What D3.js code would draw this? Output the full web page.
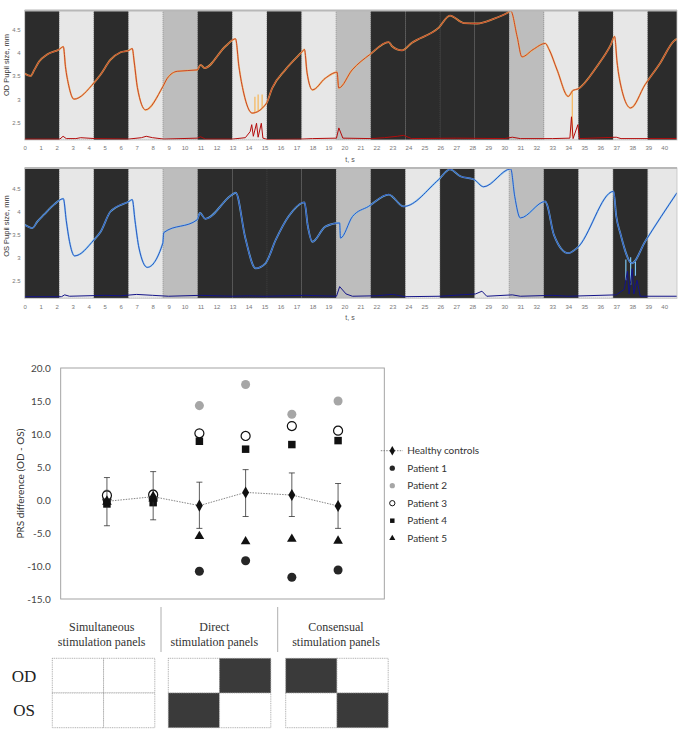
<!DOCTYPE html>
<html>
<head>
<meta charset="utf-8">
<script src="https://cdn.jsdelivr.net/npm/d3@7"></script>
<style>
  body { margin: 0; background: #fff; }
  svg { display: block; }
</style>
</head>
<body>
<svg id="chart" width="682" height="732"></svg>
<script>
// ---- pupil traces (top two panels) ----
var BAND_DUR = 2.165
var bandsOD = ["D","L","D","L","G","D","L","D","L","G","D","D","D","D","G","L","D","L","D"]
var bandsOS = ["D","L","D","L","G","D","D","D","D","G","D","L","D","L","G","D","L","D","L"]
var timeTicks = d3.range(0, 41)
var pupilTicks = [2.5, 3, 3.5, 4, 4.5]

var odTrace = [[0,3.55],[0.37,3.5],[0.6,3.63],[0.9,3.81],[1.4,3.96],[2.15,4.07],[2.42,4.13],[2.55,3.7],[2.75,3.3],
  [3.08,3.0],[4.33,3.35],[4.75,3.53],[5.37,3.85],[6.0,4.01],[6.52,4.05],[6.73,4.09],[6.85,3.8],[7.05,3.25],
  [7.56,2.77],[8.64,3.27],[8.92,3.45],[9.54,3.6],[10.79,3.63],[11.0,3.74],[11.25,3.67],[12.56,4.14],[13.19,4.3],
  [13.4,3.7],[13.7,3.13],[14.23,2.7],[15.1,2.9],[15.48,3.24],[16.3,3.63],[17.3,4.0],[17.5,4.07],[17.66,3.57],
  [18.0,3.2],[18.8,3.45],[19.54,3.58],[19.64,3.24],[20.48,3.63],[21.58,3.96],[22.77,4.23],[22.98,4.14],[23.6,4.05],
  [24.2,4.21],[25.9,4.54],[26.6,4.8],[27.46,4.64],[28.3,4.63],[29.33,4.73],[30.2,4.86],[30.4,4.9],[30.8,4.35],
  [31.1,3.91],[31.8,4.07],[32.56,4.2],[32.8,4.07],[33.3,3.63],[34.0,3.06],[34.3,3.19],[34.6,3.22],[35.8,3.71],
  [36.67,4.18],[36.9,4.35],[37.05,3.8],[37.25,3.35],[37.9,2.81],[38.8,3.31],[39.75,3.78],[40.6,4.25],[40.8,4.3]]
var odBase = [[0,2.14],[2.2,2.14],[2.4,2.2],[2.6,2.15],[3.2,2.15],[3.5,2.17],[4.4,2.15],[6.5,2.14],[7.3,2.17],
  [7.6,2.2],[8.0,2.17],[8.7,2.14],[10.8,2.16],[11.0,2.19],[11.3,2.14],[13.0,2.14],[13.8,2.17],[14.1,2.3],[14.2,2.45],
  [14.3,2.2],[14.5,2.48],[14.6,2.18],[14.8,2.48],[14.9,2.16],[15.2,2.13],[17.3,2.14],[18.0,2.15],[19.5,2.16],
  [19.65,2.38],[19.9,2.16],[21.7,2.15],[22.5,2.17],[23.3,2.2],[23.7,2.22],[24.2,2.15],[27,2.16],[30,2.15],
  [30.5,2.18],[31,2.15],[33,2.15],[34.1,2.16],[34.2,2.62],[34.3,2.15],[34.6,2.45],[34.7,2.15],[37,2.18],
  [37.3,2.15],[40.8,2.15]]
var odSpikes = [[14.4,2.72,3.05],[14.6,2.75,3.1],[14.85,2.8,3.1],[34.25,3.18,2.2]]

var osTrace = [[0,3.71],[0.48,3.64],[0.79,3.78],[1.2,3.93],[1.83,4.15],[2.42,4.28],[2.6,3.8],[2.8,3.35],[3.12,3.03],
  [4.33,3.38],[4.75,3.56],[5.37,4.0],[6.52,4.22],[6.73,4.26],[6.9,3.8],[7.15,3.2],[7.67,2.78],[8.64,3.31],[8.7,3.54],
  [10.79,3.82],[10.96,3.97],[11.3,3.84],[12.9,4.35],[13.2,4.41],[13.8,3.42],[14.44,2.76],[15.06,2.87],[15.7,3.38],
  [16.5,3.89],[17.5,4.2],[17.7,3.7],[18.0,3.34],[18.8,3.67],[19.7,3.75],[19.75,3.42],[20.5,3.89],[21.5,4.11],
  [22.77,4.37],[23.7,4.11],[25.9,4.7],[26.6,4.92],[27.25,4.77],[28.1,4.7],[28.7,4.54],[30.4,4.93],[30.65,4.33],
  [31.0,3.86],[32.56,4.22],[32.67,4.15],[33.1,3.49],[34.0,3.09],[34.54,3.2],[36.83,4.44],[37.0,3.9],[37.25,3.53],
  [37.98,2.87],[38.8,3.34],[40.8,4.41]]
var osBase = [[0,2.14],[2.3,2.14],[2.5,2.18],[2.8,2.15],[5,2.17],[6,2.16],[7,2.19],[8,2.17],[9,2.15],[11,2.17],
  [13,2.15],[14,2.16],[15,2.15],[17.5,2.17],[19.5,2.15],[19.7,2.36],[20.1,2.2],[20.5,2.15],[22,2.16],[23,2.19],
  [23.8,2.14],[26,2.15],[28.2,2.2],[28.6,2.26],[28.9,2.15],[30.5,2.18],[31,2.15],[33,2.17],[34,2.15],[37,2.18],
  [37.5,2.3],[37.7,2.7],[37.8,2.2],[38.0,2.75],[38.1,2.2],[38.3,2.5],[38.5,2.15],[40.8,2.15]]
var osSpikes = [[37.6,2.95,2.5],[37.9,3.0,2.4],[38.2,2.9,2.6]]

// ---- PRS difference chart ----
var conditions = ["sim1", "sim2", "dir1", "dir2", "con1", "con2"]
var prsTicks = [-15, -10, -5, 0, 5, 10, 15, 20]
var healthyMean = [-0.2, 0.5, -0.85, 1.15, 0.75, -0.9]
var healthyUpper = [3.4, 4.3, 2.7, 4.6, 4.1, 2.5]
var healthyLower = [-3.9, -3.0, -4.3, -2.5, -2.5, -4.3]
var patient1 = [0.1, 0.2, -10.8, -9.2, -11.7, -10.6]
var patient2 = [0.9, 0.9, 14.3, 17.5, 13.0, 15.0]
var patient3 = [0.7, 0.8, 10.1, 9.7, 11.2, 10.5]
var patient4 = [-0.6, -0.4, 8.9, 7.7, 8.4, 9.0]
var patient5 = [-0.3, 0.2, -5.5, -6.3, -5.9, -6.2]
var legendLabels = ["Healthy controls", "Patient 1", "Patient 2", "Patient 3", "Patient 4", "Patient 5"]

// ---- stimulation panel table ----
var panelTitles = [["Simultaneous", "stimulation panels"], ["Direct", "stimulation panels"], ["Consensual", "stimulation panels"]]
var eyeLabels = ["OD", "OS"]
var odDark = [[0, 0], [0, 1], [1, 0]]
var osDark = [[0, 0], [1, 0], [0, 1]]

var svg = d3.select("#chart")
var BAND_COLOR = {D: "#2c2c2c", L: "#e7e7e7", G: "#bdbdbd"}

function drawPupil(cfg) {
  var x = d3.scaleLinear().domain([0, 40.8]).range([24.7, 677])
  var y = d3.scaleLinear().domain(cfg.yDomain).range([cfg.bottom, cfg.top])
  var g = svg.append("g")
  var clipId = "clip" + cfg.id
  svg.append("clipPath").attr("id", clipId).append("rect")
    .attr("x", x(0)).attr("y", cfg.top).attr("width", x(40.8) - x(0)).attr("height", cfg.bottom - cfg.top)
  var plot = g.append("g").attr("clip-path", "url(#" + clipId + ")")

  plot.selectAll("rect.band").data(cfg.bands).join("rect")
    .attr("class", "band")
    .attr("x", (d, i) => x(i * BAND_DUR))
    .attr("width", x(BAND_DUR) - x(0))
    .attr("y", cfg.top).attr("height", cfg.bottom - cfg.top)
    .style("fill", d => BAND_COLOR[d])
    .style("stroke", "#555").style("stroke-width", 0.4).style("stroke-dasharray", "1,1")

  var line = d3.line().x(d => x(d[0])).y(d => y(d[1])).curve(d3.curveMonotoneX)
  var lineLin = d3.line().x(d => x(d[0])).y(d => y(d[1]))

  // raw (light) trace under the filtered one
  plot.append("path").attr("d", line(cfg.trace))
    .style("fill", "none").style("stroke", cfg.rawColor).style("stroke-width", 1.8).style("stroke-opacity", 0.85)
  plot.selectAll("line.spike").data(cfg.spikes).join("line")
    .attr("class", "spike")
    .attr("x1", d => x(d[0])).attr("x2", d => x(d[0]))
    .attr("y1", d => y(d[1])).attr("y2", d => y(d[2]))
    .style("stroke", cfg.rawColor).style("stroke-width", 1.2)
  plot.append("path").attr("d", line(cfg.trace))
    .style("fill", "none").style("stroke", cfg.lineColor).style("stroke-width", 1)
  plot.append("path").attr("d", lineLin(cfg.base))
    .style("fill", "none").style("stroke", cfg.baseColor).style("stroke-width", 1)

  g.append("rect").attr("x", x(0)).attr("y", cfg.top).attr("width", x(40.8) - x(0)).attr("height", cfg.bottom - cfg.top)
    .style("fill", "none").style("stroke", "#c4c4c4").style("stroke-width", 0.8)
  g.append("line").attr("x1", x(0)).attr("x2", x(40.8)).attr("y1", cfg.top).attr("y2", cfg.top)
    .style("stroke", "#b8b8b8").style("stroke-width", 2)

  g.append("g").attr("transform", "translate(0," + cfg.bottom + ")")
    .call(d3.axisBottom(x).tickValues(timeTicks).tickSize(0).tickPadding(6))
  g.append("g").attr("transform", "translate(" + x(0) + ",0)")
    .call(d3.axisLeft(y).tickValues(pupilTicks).tickFormat(d => String(d)).tickSize(0).tickPadding(4))
  g.selectAll(".domain").remove()
  g.selectAll(".tick text").style("font-family", "Liberation Sans, Arial, sans-serif")
    .style("font-size", "6px").style("fill", "#777")

  g.append("text").attr("x", 350).attr("y", cfg.bottom + 22)
    .attr("text-anchor", "middle").style("font-family", "Liberation Sans, Arial, sans-serif")
    .style("font-size", "7px").style("fill", "#555").text("t, s")
  g.append("text").attr("transform", "translate(8.5," + cfg.labelY + ") rotate(-90)")
    .attr("text-anchor", "middle").style("font-family", "Liberation Sans, Arial, sans-serif")
    .style("font-size", "7.5px").style("fill", "#333").text(cfg.label)
}

drawPupil({id: "od", top: 10.5, bottom: 140, yDomain: [2.12, 4.91], bands: bandsOD, trace: odTrace, base: odBase,
  spikes: odSpikes, rawColor: "#f7b658", lineColor: "#c5432d", baseColor: "#b30c0c", label: "OD Pupil size, mm", labelY: 65})
drawPupil({id: "os", top: 168, bottom: 298.3, yDomain: [2.105, 4.95], bands: bandsOS, trace: osTrace, base: osBase,
  spikes: osSpikes, rawColor: "#7cc6f2", lineColor: "#2d55c0", baseColor: "#141488", label: "OS Pupil size, mm", labelY: 226})

// ---- scatter ----
var FONT = "Lato, Calibri, sans-serif"
var px = d3.scalePoint().domain(conditions).range([60.7, 384.3]).padding(1)
var py = d3.scaleLinear().domain([-15, 20]).range([599, 368])
var sc = svg.append("g")

sc.append("rect").attr("x", 60.7).attr("y", py(20)).attr("width", 384.3 - 60.7).attr("height", py(-15) - py(20))
  .style("fill", "none").style("stroke", "#9a9a9a").style("stroke-width", 0.9)

var yAx = sc.append("g").attr("transform", "translate(60.7,0)")
  .call(d3.axisLeft(py).tickValues(prsTicks).tickFormat(d => d.toFixed(1)).tickSize(0).tickPadding(10))
yAx.select(".domain").remove()
yAx.selectAll("text").style("font-family", FONT).style("font-size", "10px").style("fill", "#444")

sc.append("text").attr("transform", "translate(24," + py(2.5) + ") rotate(-90)")
  .attr("text-anchor", "middle").style("font-family", FONT).style("font-size", "10px").style("fill", "#333")
  .text("PRS difference (OD - OS)")

var symCircle = d3.symbol().type(d3.symbolCircle).size(64)
var symSquare = d3.symbol().type(d3.symbolSquare).size(56)
var symTri = d3.symbol().type(d3.symbolTriangle).size(40)
var symDiamond = d3.symbol().type(d3.symbolDiamond).size(42)

var series = [
  {vals: patient1, sym: symCircle, fill: "#262626", stroke: "none"},
  {vals: patient2, sym: symCircle, fill: "#a6a6a6", stroke: "none"},
  {vals: patient3, sym: symCircle, fill: "#fff", stroke: "#111"},
  {vals: patient4, sym: symSquare, fill: "#111", stroke: "none"},
  {vals: patient5, sym: symTri, fill: "#111", stroke: "none"}
]
series.forEach(function (s) {
  sc.append("g").selectAll("path").data(s.vals).join("path")
    .attr("d", s.sym)
    .attr("transform", (d, i) => "translate(" + px(conditions[i]) + "," + py(d) + ")")
    .style("fill", s.fill).style("stroke", s.stroke).style("stroke-width", 1.2)
})

// healthy controls: dotted line, error bars, diamonds
sc.append("path").attr("d", d3.line().x((d, i) => px(conditions[i])).y(d => py(d))(healthyMean))
  .style("fill", "none").style("stroke", "#666").style("stroke-width", 0.8).style("stroke-dasharray", "1.5,1.2")
var eb = sc.append("g").selectAll("g").data(conditions).join("g").style("stroke", "#333").style("stroke-width", 0.8)
eb.append("line").attr("x1", d => px(d)).attr("x2", d => px(d))
  .attr("y1", (d, i) => py(healthyUpper[i])).attr("y2", (d, i) => py(healthyLower[i]))
eb.append("line").attr("x1", d => px(d) - 3).attr("x2", d => px(d) + 3)
  .attr("y1", (d, i) => py(healthyUpper[i])).attr("y2", (d, i) => py(healthyUpper[i]))
eb.append("line").attr("x1", d => px(d) - 3).attr("x2", d => px(d) + 3)
  .attr("y1", (d, i) => py(healthyLower[i])).attr("y2", (d, i) => py(healthyLower[i]))
sc.append("g").selectAll("path").data(healthyMean).join("path")
  .attr("d", symDiamond)
  .attr("transform", (d, i) => "translate(" + px(conditions[i]) + "," + py(d) + ")")
  .style("fill", "#111")

// legend
var lg = sc.append("g")
var LX = 392.3, LY = 450.7, LSTEP = 17.5
lg.append("line").attr("x1", LX - 11.5).attr("x2", LX + 10.5).attr("y1", LY).attr("y2", LY)
  .style("stroke", "#666").style("stroke-width", 0.8).style("stroke-dasharray", "1.5,1.2")
lg.append("path").attr("d", d3.symbol().type(d3.symbolDiamond).size(26)).attr("transform", "translate(" + LX + "," + LY + ")")
  .style("fill", "#111")
var legSyms = [d3.symbol().type(d3.symbolCircle).size(22), d3.symbol().type(d3.symbolCircle).size(22),
  d3.symbol().type(d3.symbolCircle).size(22), d3.symbol().type(d3.symbolSquare).size(20), d3.symbol().type(d3.symbolTriangle).size(16)]
series.forEach(function (s, i) {
  lg.append("path").attr("d", legSyms[i]).attr("transform", "translate(" + LX + "," + (LY + LSTEP * (i + 1)) + ")")
    .style("fill", s.fill).style("stroke", s.stroke).style("stroke-width", 1)
})
lg.selectAll("text").data(legendLabels).join("text")
  .attr("x", 407.3).attr("y", (d, i) => LY + LSTEP * i).attr("dy", "0.35em")
  .style("font-family", FONT).style("font-size", "10px").style("fill", "#333").text(d => d)

// ---- stimulation panels ----
var SERIF = "Liberation Serif, Times New Roman, serif"
var tb = svg.append("g")
var titleX = [101.7, 214.3, 336]
var boxX = [52.3, 168.3, 285.7]
var BOX_W = 102.5, BOX_TOP = 658.3, ROW_H = 34.7
panelTitles.forEach(function (t, i) {
  tb.selectAll(null).data(t).join("text")
    .attr("x", titleX[i]).attr("y", (d, j) => 630.5 + j * 15)
    .attr("text-anchor", "middle").style("font-family", SERIF).style("font-size", "12px").style("fill", "#333")
    .text(d => d)
})
tb.selectAll("line.div").data([161, 277.7]).join("line").attr("class", "div")
  .attr("x1", d => d).attr("x2", d => d).attr("y1", 607).attr("y2", 652)
  .style("stroke", "#999").style("stroke-width", 0.8)

function drawRow(pattern, row) {
  pattern.forEach(function (cells, i) {
    cells.forEach(function (dark, j) {
      tb.append("rect")
        .attr("x", boxX[i] + j * BOX_W / 2).attr("y", BOX_TOP + row * ROW_H)
        .attr("width", BOX_W / 2).attr("height", ROW_H)
        .style("fill", dark ? "#3a3a3a" : "#fff")
        .style("stroke", "#999").style("stroke-width", 0.8).style("stroke-dasharray", "1,0.8")
    })
  })
}
drawRow(odDark, 0)
drawRow(osDark, 1)
tb.selectAll("text.eye").data(eyeLabels).join("text").attr("class", "eye")
  .attr("x", 24).attr("y", (d, i) => BOX_TOP + ROW_H * (i + 0.5)).attr("dy", "0.35em")
  .attr("text-anchor", "middle").style("font-family", SERIF).style("font-size", "17px").style("fill", "#222")
  .text(d => d)
</script>
</body>
</html>
